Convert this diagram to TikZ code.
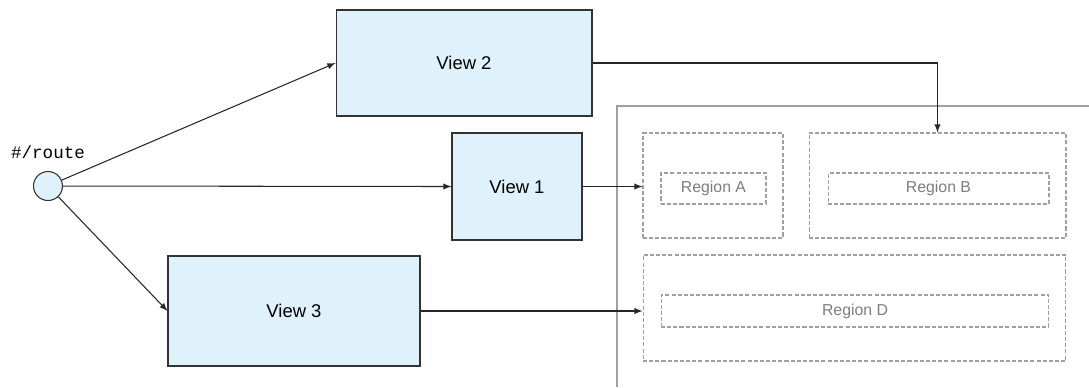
\documentclass[tikz,border=0pt]{standalone}
\usepackage{fontspec}
\setmainfont{Liberation Sans}
\setsansfont{Liberation Sans}
\setmonofont{Liberation Mono}
\usetikzlibrary{positioning}
\definecolor{viewblue}{RGB}{223,241,250}
\definecolor{regiongray}{RGB}{160,160,160}
\definecolor{labelgray}{RGB}{125,125,125}
\tikzset{
  viewbox/.style={draw=black!80, fill=viewblue, line width=0.6pt, inner sep=0pt,
    font=\sffamily\fontsize{10.5}{12}\selectfont},
  regionbox/.style={draw=regiongray, dash pattern=on 2.3pt off 1.2pt, line width=0.6pt,
    inner sep=0pt, text=labelgray, font=\sffamily\fontsize{9}{11}\selectfont},
  flow/.style={-latex, line width=0.6pt, black!85}
}
\begin{document}
\begin{tikzpicture}[x=0.02cm, y=-0.02cm]
\useasboundingbox (0,0) rectangle (1089,387);
% container (open to the right and bottom)
\draw[regiongray, line width=0.6pt] (617,387) -- (617,106) -- (1089,106);
\node[circle, draw=black!80, fill=viewblue, line width=0.6pt, minimum size=0.58cm, inner sep=0pt] (route) at (48,186) {};
\node[font=\ttfamily\fontsize{10}{12}\selectfont, above=0.13cm of route] (routelabel) {\#/route};
\node[viewbox, minimum width=5.12cm, minimum height=2.12cm] (view2) at (464,63) {View 2};
\node[viewbox, minimum width=2.6cm, minimum height=2.14cm] (view1) at (517,186.5) {View 1};
\node[viewbox, minimum width=5.04cm, minimum height=2.2cm] (view3) at (294,311) {View 3};
% regions
\node[regionbox, minimum width=2.8cm, minimum height=2.1cm] (raout) at (713,185.5) {};
\node[regionbox, minimum width=2.1cm, minimum height=0.62cm] (rain) at (713.5,188.5) {Region A};
\node[regionbox, minimum width=5.14cm, minimum height=2.1cm] (rbout) at (937.5,185.5) {};
\node[regionbox, minimum width=4.42cm, minimum height=0.62cm] (rbin) at (938.5,188.5) {Region B};
\node[regionbox, minimum width=8.46cm, minimum height=2.12cm] (rdout) at (854.5,308) {};
\node[regionbox, minimum width=7.76cm, minimum height=0.64cm] (rdin) at (855,311) {Region D};
% connectors
\draw[flow] (route) -- (view2.west);
\draw[flow] (route) -- (view1.west);
\draw[flow] (route) -- (view3.west);
\draw[flow] (view2.east) -| (rbout.north);
\draw[flow] (view1.east) -- (view1.east -| raout.west);
\draw[flow] (view3.east) -- (view3.east -| rdout.west);
\end{tikzpicture}
\end{document}
